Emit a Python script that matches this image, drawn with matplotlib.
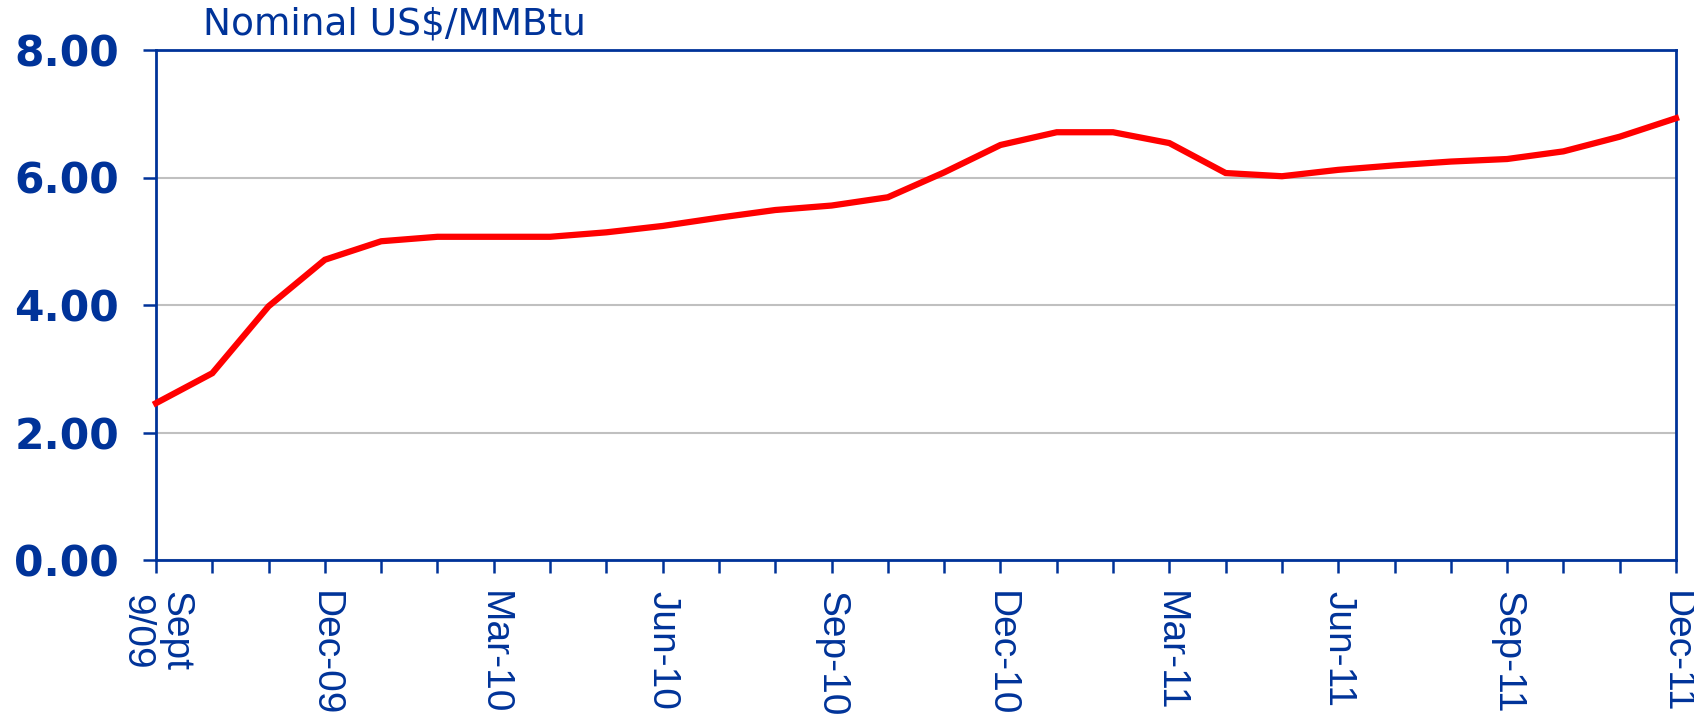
import matplotlib
matplotlib.use("Agg")
import matplotlib.pyplot as plt
from matplotlib.transforms import ScaledTranslation

months = ["Sept\n9/09", "Oct-09", "Nov-09", "Dec-09", "Jan-10", "Feb-10", "Mar-10",
          "Apr-10", "May-10", "Jun-10", "Jul-10", "Aug-10", "Sep-10", "Oct-10",
          "Nov-10", "Dec-10", "Jan-11", "Feb-11", "Mar-11", "Apr-11", "May-11",
          "Jun-11", "Jul-11", "Aug-11", "Sep-11", "Oct-11", "Nov-11", "Dec-11"]
prices = [2.46, 2.93, 3.98, 4.71, 5.00, 5.07, 5.07, 5.07, 5.14, 5.24, 5.37, 5.49,
          5.56, 5.69, 6.08, 6.51, 6.71, 6.71, 6.54, 6.07, 6.02, 6.12, 6.19, 6.25,
          6.29, 6.41, 6.64, 6.93]
y_ticks = [0, 2, 4, 6, 8]
y_labels = ["0.00", "2.00", "4.00", "6.00", "8.00"]
unit_label = "Nominal US$/MMBtu"

BLUE = "#003399"

fig = plt.figure(figsize=(16.94, 7.17), dpi=100)
ax = fig.add_axes([156 / 1694, 1 - 560 / 717, (1676 - 156) / 1694, (560 - 50) / 717])

x = list(range(len(months)))
ax.plot(x, prices, color="#FF0000", lw=4.5, solid_joinstyle="miter", zorder=3, clip_on=False)

ax.set_xlim(0, len(months) - 1)
ax.set_ylim(0, 8)
ax.set_yticks(y_ticks)
ax.set_yticklabels(y_labels, fontsize=30.5, fontweight="bold", color=BLUE,
                   family="DejaVu Sans")
ax.set_xticks(x)
xl = [m if i % 3 == 0 else "" for i, m in enumerate(months)]
ax.set_xticklabels(xl, rotation=-90, fontsize=28, color=BLUE, family="Liberation Sans",
                   ha="center", va="top", linespacing=1.1)
first = ax.get_xticklabels()[0]
first.set_transform(first.get_transform() + ScaledTranslation(-0.06, 0, fig.dpi_scale_trans))

ax.grid(axis="y", color="#C0C0C0", lw=1.5, zorder=0)
for s in ax.spines.values():
    s.set_color(BLUE)
    s.set_linewidth(2.0)
ax.tick_params(axis="both", direction="out", length=9.6, width=1.8, color=BLUE)
ax.tick_params(axis="y", pad=17)
ax.tick_params(axis="x", pad=13)

fig.text(203 / 1694, 1 - 35 / 717, unit_label, fontsize=27, color=BLUE,
         family="DejaVu Sans", va="baseline", ha="left")

fig.savefig("out.png", dpi=100)
